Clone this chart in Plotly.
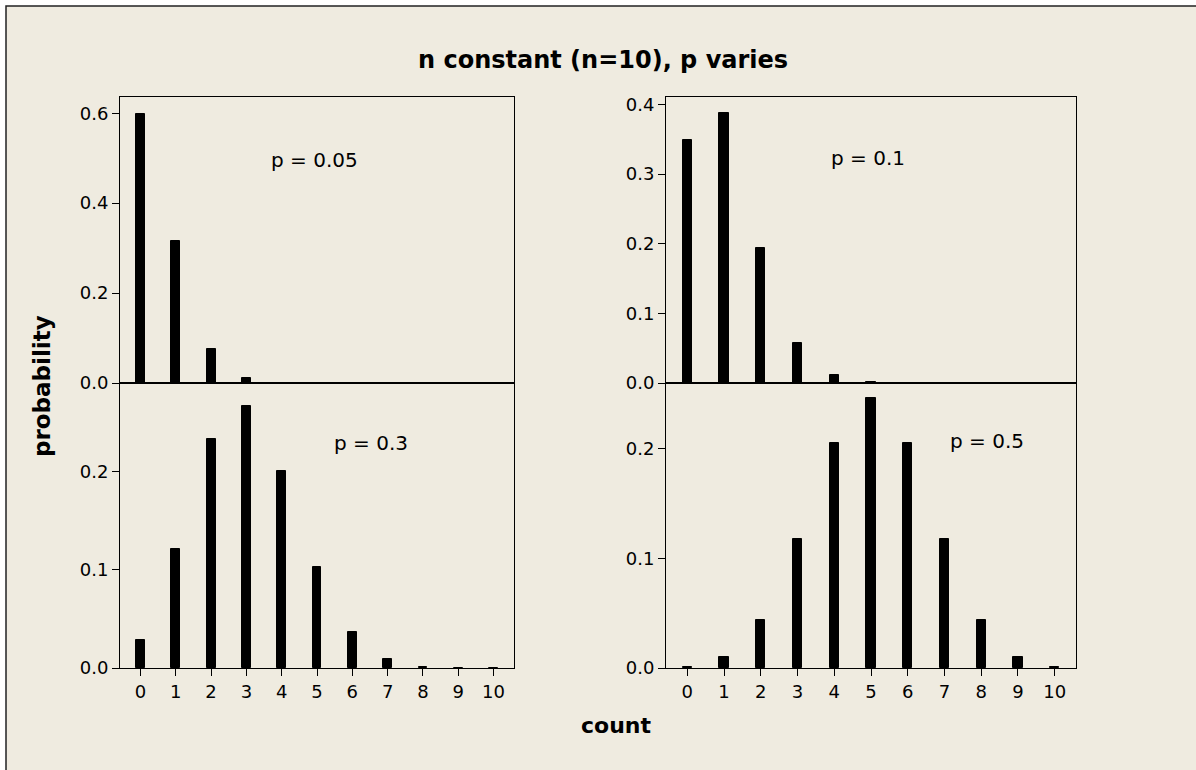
import plotly.graph_objects as go

# ---- data ----
counts = [0, 1, 2, 3, 4, 5, 6, 7, 8, 9, 10]
prob_p005 = [0.5987, 0.3151, 0.0746, 0.0105, 0.001, 0.00006, 0.000003, 0.0000001, 0, 0, 0]
prob_p010 = [0.3487, 0.3874, 0.1937, 0.0574, 0.0112, 0.0015, 0.00014, 0.000009, 0.0000004, 0, 0]
prob_p030 = [0.0282, 0.1211, 0.2335, 0.2668, 0.2001, 0.1029, 0.0368, 0.009, 0.0014, 0.0001, 0.000006]
prob_p050 = [0.001, 0.0098, 0.0439, 0.1172, 0.2051, 0.2461, 0.2051, 0.1172, 0.0439, 0.0098, 0.001]
panel_labels = ["p = 0.05", "p = 0.1", "p = 0.3", "p = 0.5"]
yticks_tl = [0.0, 0.2, 0.4, 0.6]
yticks_tr = [0.0, 0.1, 0.2, 0.3, 0.4]
yticks_b = [0.0, 0.1, 0.2]

# ---- layout geometry (pixels) ----
W, H = 1196, 770
L, R, T, B = 120, 1076, 97, 668
PW, PH = R - L, B - T


def px(x):
    return (x - L) / PW


def py(y):
    return (B - y) / PH


FONT = "DejaVu Sans"
BG = "#EFEBE0"

fig = go.Figure()
series = [prob_p005, prob_p010, prob_p030, prob_p050]
axes = [("x", "y"), ("x2", "y2"), ("x3", "y3"), ("x4", "y4")]
for vals, (xa, ya) in zip(series, axes):
    fig.add_trace(go.Bar(
        x=counts, y=vals, xaxis=xa, yaxis=ya, width=0.25,
        marker=dict(color="black", line=dict(color="black", width=1)),
        showlegend=False,
    ))

left_dom = [0, px(514)]
right_dom = [px(666), 1]
top_dom = [py(383), 1]
bot_dom = [0, py(383)]
xr = [-0.58, 10.58]

tickfont = dict(family=FONT, size=18, color="black")
common_x = dict(range=xr, showline=True, mirror=True, linecolor="black", linewidth=1,
                showgrid=False, zeroline=False, tickvals=counts, tickfont=tickfont)
common_y = dict(showline=True, mirror=True, linecolor="black", linewidth=1,
                showgrid=False, zeroline=False, ticks="outside", ticklen=7,
                tickcolor="black", tickwidth=1, tickformat=".1f", tickfont=tickfont)

fig.update_layout(
    width=W, height=H,
    margin=dict(l=L, r=W - R, t=T, b=H - B),
    paper_bgcolor="white", plot_bgcolor="white",
    bargap=0,
    xaxis=dict(domain=left_dom, anchor="y", showticklabels=False, ticks="", **common_x),
    xaxis2=dict(domain=right_dom, anchor="y2", showticklabels=False, ticks="", **common_x),
    xaxis3=dict(domain=left_dom, anchor="y3", ticks="outside", ticklen=7,
                tickcolor="black", **common_x),
    xaxis4=dict(domain=right_dom, anchor="y4", ticks="outside", ticklen=7,
                tickcolor="black", **common_x),
    yaxis=dict(domain=top_dom, anchor="x", range=[0, 0.636], tickvals=yticks_tl, **common_y),
    yaxis2=dict(domain=top_dom, anchor="x2", range=[0, 0.4106], tickvals=yticks_tr, **common_y),
    yaxis3=dict(domain=bot_dom, anchor="x3", range=[0, 0.29], tickvals=yticks_b, **common_y),
    yaxis4=dict(domain=bot_dom, anchor="x4", range=[0, 0.2596], tickvals=yticks_b, **common_y),
)

# beige frame behind the panels
fig.add_shape(type="rect", xref="paper", yref="paper", layer="below",
              x0=px(6), x1=px(1210), y0=py(785), y1=py(6),
              fillcolor=BG, line=dict(color="#222222", width=1.5))

annots = [
    dict(text="<b>n constant (n=10), p varies</b>", x=px(603), y=py(60), size=24),
    dict(text="<b>probability</b>", x=px(42), y=py(386), size=23, textangle=-90),
    dict(text="<b>count</b>", x=px(616), y=py(725), size=22),
    dict(text=panel_labels[0], x=px(314), y=py(160), size=20),
    dict(text=panel_labels[1], x=px(868), y=py(158), size=20),
    dict(text=panel_labels[2], x=px(371), y=py(443), size=20),
    dict(text=panel_labels[3], x=px(987), y=py(441), size=20),
]
for a in annots:
    fig.add_annotation(text=a["text"], x=a["x"], y=a["y"], xref="paper", yref="paper",
                       showarrow=False, xanchor="center", yanchor="middle",
                       textangle=a.get("textangle", 0),
                       font=dict(family=FONT, size=a["size"], color="black"))

fig.write_html("out.html", config={"displayModeBar": False},
               post_script="document.body.style.margin='0';")
